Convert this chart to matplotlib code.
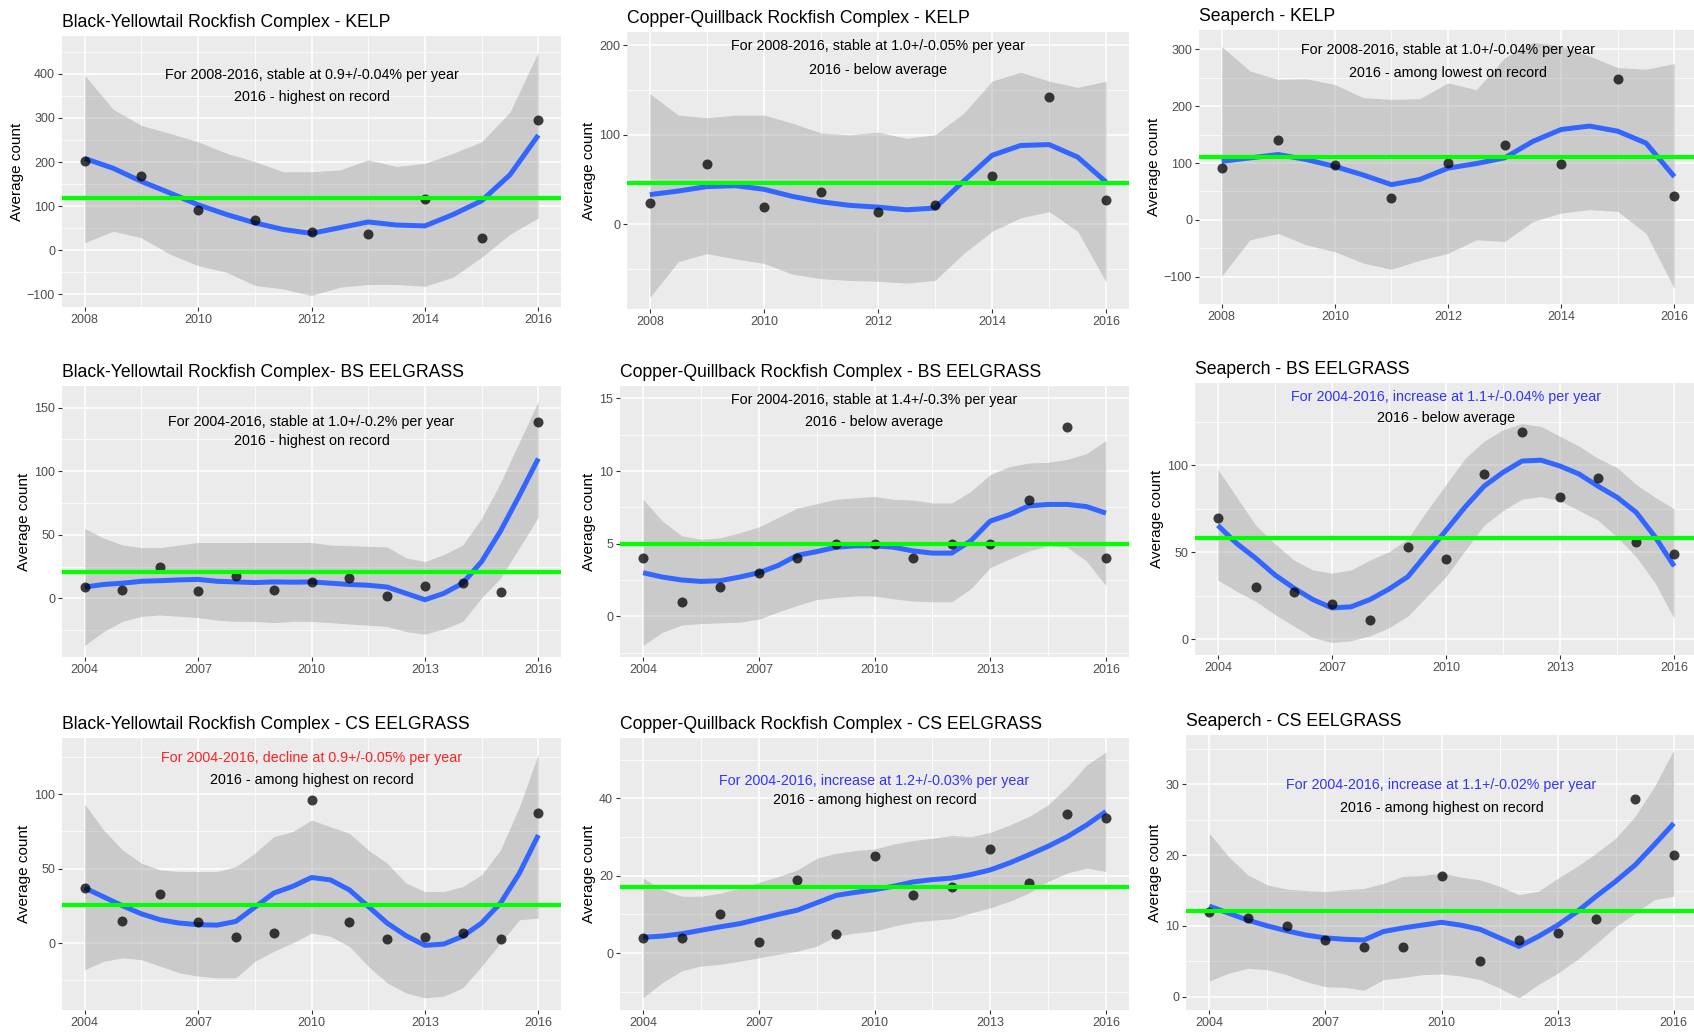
import matplotlib
matplotlib.use("Agg")
import matplotlib.pyplot as plt
from matplotlib.ticker import FixedLocator

plt.rcParams['font.family'] = ['Liberation Sans', 'DejaVu Sans']

W, H = 1694, 1032

# ---------------- data ----------------
years_kelp = [2008, 2009, 2010, 2011, 2012, 2013, 2014, 2015, 2016]
years_eel = [2004, 2005, 2006, 2007, 2008, 2009, 2010, 2011, 2012, 2013, 2014, 2015, 2016]
smooth_x_kelp = [2008, 2008.5, 2009, 2009.5, 2010, 2010.5, 2011, 2011.5, 2012,
                 2012.5, 2013, 2013.5, 2014, 2014.5, 2015, 2015.5, 2016]
smooth_x_eel = [2004, 2004.5, 2005, 2005.5, 2006, 2006.5, 2007, 2007.5, 2008,
                2008.5, 2009, 2009.5, 2010, 2010.5, 2011, 2011.5, 2012, 2012.5,
                2013, 2013.5, 2014, 2014.5, 2015, 2015.5, 2016]
xticks_kelp = [2008, 2010, 2012, 2014, 2016]
xticks_eel = [2004, 2007, 2010, 2013, 2016]

titles = ["Black-Yellowtail Rockfish Complex - KELP",
          "Copper-Quillback Rockfish Complex - KELP",
          "Seaperch - KELP",
          "Black-Yellowtail Rockfish Complex- BS EELGRASS",
          "Copper-Quillback Rockfish Complex - BS EELGRASS",
          "Seaperch - BS EELGRASS",
          "Black-Yellowtail Rockfish Complex - CS EELGRASS",
          "Copper-Quillback Rockfish Complex - CS EELGRASS",
          "Seaperch - CS EELGRASS"]

trend_text = ["For 2008-2016, stable at 0.9+/-0.04% per year",
              "For 2008-2016, stable at 1.0+/-0.05% per year",
              "For 2008-2016, stable at 1.0+/-0.04% per year",
              "For 2004-2016, stable at 1.0+/-0.2% per year",
              "For 2004-2016, stable at 1.4+/-0.3% per year",
              "For 2004-2016, increase at 1.1+/-0.04% per year",
              "For 2004-2016, decline at 0.9+/-0.05% per year",
              "For 2004-2016, increase at 1.2+/-0.03% per year",
              "For 2004-2016, increase at 1.1+/-0.02% per year"]
trend_color = ["black", "black", "black", "black", "black", "#3333FF", "#FF2020", "#3333FF", "#3333FF"]
status_text = ["2016 - highest on record",
               "2016 - below average",
               "2016 - among lowest on record",
               "2016 - highest on record",
               "2016 - below average",
               "2016 - below average",
               "2016 - among highest on record",
               "2016 - among highest on record",
               "2016 - among highest on record"]

# Panel 1: Black-Yellowtail KELP
by_kelp_counts = [202, 168, 92, 68, 41, 37, 116, 27, 295]
by_kelp_mean = 118
by_kelp_fit = [208, 186, 156, 130, 103, 81, 62, 47, 38, 51, 64, 57, 55, 81, 112, 171, 261]
by_kelp_lo = [17, 43, 28, -9, -35, -50, -80, -88, -103, -84, -78, -78, -82, -61, -16, 36, 73]
by_kelp_hi = [397, 320, 283, 265, 246, 220, 201, 178, 178, 182, 205, 190, 197, 220, 246, 313, 450]

# Panel 2: Copper-Quillback KELP
cq_kelp_counts = [24, 67, 19, 36, 14, 21, 54, 142, 27]
cq_kelp_mean = 46
cq_kelp_fit = [33, 37, 42, 43, 39, 31, 25, 21, 19, 16, 18, 48, 77, 88, 89, 75, 47]
cq_kelp_lo = [-82, -42, -33, -39, -44, -56, -61, -63, -64, -66, -63, -33, -8, 7, 14, -8, -65]
cq_kelp_hi = [146, 122, 119, 122, 122, 113, 102, 100, 103, 96, 100, 124, 160, 170, 160, 153, 160]

# Panel 3: Seaperch KELP
sp_kelp_counts = [92, 141, 97, 39, 100, 131, 99, 248, 42]
sp_kelp_mean = 111
sp_kelp_fit = [103, 109, 115, 106, 94, 79, 62, 71, 91, 99, 109, 138, 159, 165, 156, 135, 76]
sp_kelp_lo = [-99, -35, -24, -44, -56, -76, -87, -71, -59, -35, -38, -3, 12, 18, 15, -24, -121]
sp_kelp_hi = [305, 262, 247, 248, 238, 215, 212, 213, 241, 229, 285, 312, 306, 288, 268, 265, 275]

# Panel 4: Black-Yellowtail BS EELGRASS
by_bs_counts = [9, 7, 25, 6, 18, 7, 13, 16, 2, 10, 12, 5, 139]
by_bs_mean = 21
by_bs_fit = [9, 11, 12, 13.5, 14, 14.6, 15, 13.5, 13, 12.5, 13, 12.8, 13, 12, 11, 10.4, 9, 4, -1, 4, 12, 29, 53, 81, 110]
by_bs_lo = [-37, -26, -18, -14, -13, -14, -15, -17, -18, -18, -19, -18, -18, -19, -20, -21, -22, -26, -28, -24, -18, 0.5, 16, 40, 64]
by_bs_hi = [55, 47.5, 42, 40, 40, 42, 44, 44, 44, 44, 44, 44, 44, 42, 41.5, 41, 40.5, 32, 29, 34.5, 42, 63, 91, 123, 155]

# Panel 5: Copper-Quillback BS EELGRASS
cq_bs_counts = [4, 1, 2, 3, 4, 5, 5, 4, 5, 5, 8, 13, 4]
cq_bs_mean = 5.0
cq_bs_fit = [3.0, 2.7, 2.5, 2.4, 2.45, 2.7, 3.0, 3.5, 4.2, 4.45, 4.75, 4.85, 4.85, 4.75, 4.5, 4.35, 4.35, 5.2, 6.55, 7.0, 7.6, 7.7, 7.7, 7.55, 7.1]
cq_bs_lo = [-2.0, -1.1, -0.6, -0.5, -0.45, -0.4, -0.2, 0.3, 0.75, 1.15, 1.3, 1.4, 1.4, 1.2, 1.05, 1.0, 1.0, 1.9, 3.35, 3.95, 4.5, 4.85, 4.75, 3.8, 2.1]
cq_bs_hi = [8.05, 6.55, 5.55, 5.3, 5.4, 5.75, 6.15, 6.8, 7.45, 7.75, 8.05, 8.15, 8.25, 8.05, 8.0, 7.8, 7.8, 8.6, 9.75, 10.3, 10.55, 10.6, 10.8, 11.2, 12.1]

# Panel 6: Seaperch BS EELGRASS
sp_bs_counts = [70, 30, 27, 20, 11, 53, 46, 95, 119, 82, 93, 56, 49]
sp_bs_mean = 58
sp_bs_fit = [65.5, 55, 46.5, 37, 29.4, 22.8, 18, 18.6, 22.8, 28.8, 36, 49.3, 62.6, 76, 88, 96, 102.5, 103, 99.6, 95, 88, 81.6, 73, 58.8, 42]
sp_bs_lo = [34, 27.5, 21.8, 14.2, 7.6, 0.9, -1.9, -0.9, 1.9, 6.6, 13.3, 24.7, 36, 51, 65.5, 74, 80.6, 82, 79.7, 74, 68.3, 58.8, 47.4, 32.3, 11.8]
sp_bs_hi = [97.7, 81.6, 65.5, 55, 45.5, 39.8, 38, 39.8, 45.5, 50.3, 57.9, 74, 89, 104, 113.9, 120.5, 124, 122.4, 116.7, 111, 104, 98.7, 89, 81.6, 75]

# Panel 7: Black-Yellowtail CS EELGRASS
by_cs_counts = [37, 15, 33, 14, 4, 7, 96, 14, 3, 4, 7, 3, 87]
by_cs_mean = 25.4
by_cs_fit = [37, 31, 25, 19.6, 15.6, 13.4, 12.3, 12, 14.5, 24, 33.5, 38, 44, 42.4, 35.7, 24.6, 13.4, 4.9, -1.6, -0.7, 4.5, 13.4, 26.8, 46.9, 72.5]
by_cs_lo = [-17.9, -12.3, -10, -11.2, -15.6, -20, -22.3, -23.4, -23.4, -12.3, -5.6, 0, 6.7, 4.5, -2.2, -15.6, -26.8, -33.5, -36.8, -35.7, -30.1, -15.6, 0, 15.6, 16.7]
by_cs_hi = [93.3, 75.9, 62.5, 53.6, 49.1, 48, 48, 48, 51.3, 60.3, 71.4, 74.8, 82.6, 78.1, 73.7, 62.5, 53.6, 40.2, 34.6, 34.6, 37.9, 45.8, 62.5, 91.5, 127]

# Panel 8: Copper-Quillback CS EELGRASS
cq_cs_counts = [4, 4, 10, 3, 19, 5, 25, 15, 17, 27, 18, 36, 35]
cq_cs_mean = 17.1
cq_cs_fit = [4.1, 4.4, 5, 5.9, 6.8, 7.6, 8.8, 10, 11.1, 13, 14.9, 15.7, 16.4, 17.3, 18.4, 19, 19.4, 20.3, 21.5, 23.3, 25.4, 27.6, 30.1, 33.1, 36.6]
cq_cs_lo = [-11.5, -7.6, -4.6, -3.3, -2.9, -2.1, -1.2, -0.3, 0.5, 1.8, 4.4, 5.2, 5.7, 7, 8, 8.5, 8.9, 10.4, 11.7, 13.4, 15.5, 18.5, 20.7, 22, 21.1]
cq_cs_hi = [19.4, 16.4, 14.7, 14.7, 15.5, 16.8, 18.3, 19.8, 21.5, 24.5, 25.8, 26.5, 26.9, 28.2, 29.1, 29.7, 30.4, 30.1, 31.2, 33.1, 35.3, 38.3, 43, 48.6, 52]

# Panel 9: Seaperch CS EELGRASS
sp_cs_counts = [12, 11.1, 10, 8, 7, 7, 17, 5, 8, 9, 11, 28, 20]
sp_cs_mean = 12.1
sp_cs_fit = [12.8, 11.8, 10.8, 10, 9.3, 8.7, 8.3, 8.1, 8, 9.2, 9.7, 10.1, 10.5, 10.1, 9.5, 8.3, 7.1, 8.5, 10.1, 12, 14.2, 16.3, 18.6, 21.5, 24.5]
sp_cs_lo = [2.2, 3.3, 4, 3.8, 3.1, 2.1, 1.4, 1.3, 0.9, 2.4, 2.7, 3.1, 3.2, 2.9, 2.4, 1.2, -0.2, 1.7, 3.3, 5.2, 7.5, 9.9, 11.8, 13.7, 14.2]
sp_cs_hi = [23.1, 19.8, 17.2, 15.8, 15.2, 15, 14.9, 15.1, 15.3, 16, 17, 17.1, 17.5, 16.9, 16.5, 15.6, 14.4, 14.9, 16.7, 18.4, 20.3, 22.4, 25.5, 29.7, 34.9]

yticks = [[-100, 0, 100, 200, 300, 400], [0, 100, 200], [-100, 0, 100, 200, 300],
          [0, 50, 100, 150], [0, 5, 10, 15], [0, 50, 100],
          [0, 50, 100], [0, 20, 40], [0, 10, 20, 30]]

# ---------------- layout (pixel boxes: left, top, right, bottom) ----------------
boxes = [(62, 36, 561, 307), (627, 32, 1129, 309), (1199, 30, 1697, 304),
         (62, 386, 561, 657), (620, 386, 1129, 657), (1195, 383, 1697, 655),
         (62, 738, 561, 1010), (620, 738, 1129, 1010), (1186, 735, 1697, 1010)]
ylims = [(-129, 486), (-95, 215), (-148, 334),
         (-46, 167), (-2.8, 15.85), (-9.1, 147.4),
         (-45, 137.7), (-14.7, 55.6), (-1.9, 37)]
text_y = [(397, 347), (199, 173), (298, 259),
          (139, 124), (14.9, 13.35), (139.5, 127.5),
          (124.3, 109.6), (44.5, 39.7), (29.9, 26.7)]

panels = [
    (years_kelp, by_kelp_counts, by_kelp_mean, smooth_x_kelp, by_kelp_fit, by_kelp_lo, by_kelp_hi, xticks_kelp),
    (years_kelp, cq_kelp_counts, cq_kelp_mean, smooth_x_kelp, cq_kelp_fit, cq_kelp_lo, cq_kelp_hi, xticks_kelp),
    (years_kelp, sp_kelp_counts, sp_kelp_mean, smooth_x_kelp, sp_kelp_fit, sp_kelp_lo, sp_kelp_hi, xticks_kelp),
    (years_eel, by_bs_counts, by_bs_mean, smooth_x_eel, by_bs_fit, by_bs_lo, by_bs_hi, xticks_eel),
    (years_eel, cq_bs_counts, cq_bs_mean, smooth_x_eel, cq_bs_fit, cq_bs_lo, cq_bs_hi, xticks_eel),
    (years_eel, sp_bs_counts, sp_bs_mean, smooth_x_eel, sp_bs_fit, sp_bs_lo, sp_bs_hi, xticks_eel),
    (years_eel, by_cs_counts, by_cs_mean, smooth_x_eel, by_cs_fit, by_cs_lo, by_cs_hi, xticks_eel),
    (years_eel, cq_cs_counts, cq_cs_mean, smooth_x_eel, cq_cs_fit, cq_cs_lo, cq_cs_hi, xticks_eel),
    (years_eel, sp_cs_counts, sp_cs_mean, smooth_x_eel, sp_cs_fit, sp_cs_lo, sp_cs_hi, xticks_eel),
]

fig = plt.figure(figsize=(W / 100, H / 100), dpi=100)
fig.patch.set_facecolor("white")

for i, (yrs, cnt, mean, sx, fit, lo, hi, xt) in enumerate(panels):
    l, t, r, b = boxes[i]
    ax = fig.add_axes([l / W, 1 - b / H, (r - l) / W, (b - t) / H])
    ax.set_facecolor("#EBEBEB")
    for s in ax.spines.values():
        s.set_visible(False)
    span = yrs[-1] - yrs[0]
    ax.set_xlim(yrs[0] - 0.05 * span, yrs[-1] + 0.05 * span)
    ax.set_ylim(*ylims[i])
    ax.xaxis.set_major_locator(FixedLocator(xt))
    minor_x = [(a + c) / 2 for a, c in zip(xt[:-1], xt[1:])]
    ax.xaxis.set_minor_locator(FixedLocator(minor_x))
    yt = yticks[i]
    step = yt[1] - yt[0]
    minor_y = [v - step / 2 for v in yt] + [yt[-1] + step / 2]
    ax.yaxis.set_major_locator(FixedLocator(yt))
    ax.yaxis.set_minor_locator(FixedLocator(minor_y))
    ax.grid(which="major", color="white", linewidth=1.1)
    ax.grid(which="minor", color="white", linewidth=0.55)
    ax.set_axisbelow(True)
    ax.tick_params(which="major", length=3, width=0.8, color="#333333",
                   labelsize=9, labelcolor="#4D4D4D", pad=2)
    ax.tick_params(which="minor", length=0)

    ax.fill_between(sx, lo, hi, color="#999999", alpha=0.4, linewidth=0, zorder=2)
    ax.plot(sx, fit, color="#3366FF", linewidth=3.6, zorder=3,
            solid_capstyle="butt", solid_joinstyle="round")
    ax.scatter(yrs, cnt, s=52, color="black", alpha=0.75, linewidths=0, zorder=4)
    ax.axhline(mean, color="#00FF00", linewidth=3.0, zorder=5)

    xm = (yrs[0] + yrs[-1]) / 2
    ax.text(xm, text_y[i][0], trend_text[i], ha="center", va="center",
            fontsize=10.3, color=trend_color[i], zorder=6)
    ax.text(xm, text_y[i][1], status_text[i], ha="center", va="center",
            fontsize=10.3, color="black", zorder=6)

    ax.set_ylabel("Average count", fontsize=11, color="black", labelpad=2)
    fig.text(l / W, 1 - (t - 9) / H, titles[i], ha="left", va="baseline",
             fontsize=12.7, color="black")

fig.savefig("out.png", dpi=100)
